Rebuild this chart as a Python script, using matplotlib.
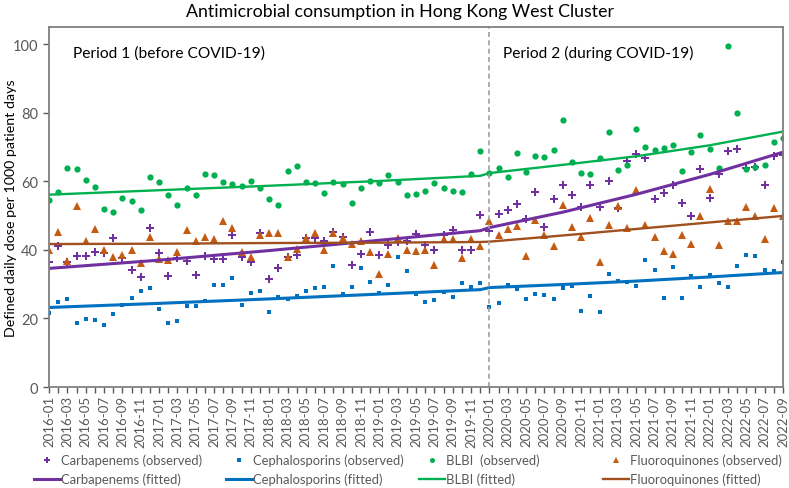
import matplotlib
matplotlib.use("Agg")
import matplotlib.pyplot as plt
from matplotlib.lines import Line2D
import numpy as np
import pandas as pd

plt.rcParams['font.family'] = ['Lato', 'DejaVu Sans']

# monthly observations, 2016-01 .. 2022-09
months = [d.strftime("%Y-%m") for d in pd.date_range("2016-01-01", "2022-09-01", freq="MS")]

carbapenems = [36.5, 41.2, 36.6, 38.2, 38.2, 39.5, 39.1, 43.4, 37.5, 34.0, 32.0, 46.4, 39.2, 32.5,
               37.5, 36.8, 32.6, 38.2, 37.3, 37.3, 44.4, 37.8, 36.6, 44.9, 31.4, 34.8, 37.8,
               38.4, 43.5, 43.4, 42.5, 45.3, 43.9, 35.5, 38.8, 45.3, 38.6, 41.4, 42.3, 42.6,
               44.5, 41.5, 40.1, 44.3, 45.7, 40.0, 40.1, 50.1, 45.4, 50.6, 51.7, 53.4, 48.9,
               56.9, 46.8, 54.7, 58.8, 56.1, 52.4, 58.8, 52.6, 60.1, 52.3, 66.0, 67.9, 66.9,
               54.8, 56.5, 58.9, 53.7, 49.9, 63.7, 55.2, 62.2, 68.7, 69.4, 63.8, 64.2, 58.9, 67.3, 67.8]

cephalosporins = [21.5, 24.8, 25.7, 18.7, 19.7, 19.6, 18.0, 21.4, 24.0, 26.0, 27.9, 28.8, 22.8, 18.6,
                  19.2, 23.5, 23.5, 25.1, 29.8, 29.9, 31.9, 23.9, 27.5, 28.0, 21.8, 26.2, 25.6,
                  26.6, 27.9, 29.0, 29.3, 35.2, 27.1, 29.3, 34.7, 30.5, 27.4, 29.9, 37.8, 33.9,
                  27.0, 24.9, 25.5, 27.6, 26.4, 30.2, 29.3, 30.3, 23.2, 24.4, 29.8, 28.5, 25.6,
                  27.0, 26.8, 25.8, 29.0, 29.4, 22.3, 26.6, 21.9, 33.1, 31.0, 30.7, 29.6, 37.1,
                  34.0, 26.1, 35.1, 26.1, 32.4, 29.3, 32.6, 30.4, 29.3, 35.2, 38.6, 38.2, 34.2, 33.9, 36.5]

blbi = [54.5, 56.9, 64.0, 63.5, 60.3, 58.3, 51.8, 51.0, 55.2, 54.3, 51.5, 61.2, 59.7, 56.1,
        53.1, 58.0, 56.1, 62.0, 61.8, 59.8, 59.2, 58.6, 60.0, 58.1, 54.7, 53.0, 63.1,
        64.4, 59.8, 59.5, 56.6, 59.7, 59.1, 53.6, 58.0, 60.1, 59.4, 61.7, 59.8, 55.9,
        56.3, 57.2, 59.4, 58.1, 57.1, 57.0, 62.1, 68.8, 62.4, 63.9, 61.2, 68.3, 62.8,
        67.4, 67.0, 69.1, 78.0, 65.7, 62.3, 62.1, 66.8, 74.3, 63.3, 64.9, 75.4, 70.0,
        69.2, 69.7, 70.7, 63.0, 68.5, 73.6, 69.4, 63.9, 99.4, 79.8, 63.7, 64.1, 64.7, 71.6, 72.7]

fluoroquinones = [39.9, 45.2, 36.7, 52.8, 42.6, 46.1, 40.0, 37.9, 38.5, 39.9, 36.1, 43.7, 37.4, 37.0,
                  39.3, 45.9, 42.5, 43.8, 43.3, 48.5, 46.4, 39.5, 38.0, 44.4, 45.0, 44.8, 38.0,
                  40.2, 43.5, 44.9, 40.1, 44.8, 43.5, 41.7, 42.5, 39.5, 33.1, 38.7, 43.4, 40.0,
                  39.7, 40.1, 35.5, 43.1, 43.1, 37.6, 43.1, 41.2, 48.4, 44.3, 46.2, 46.9, 38.2,
                  48.7, 44.4, 41.2, 53.2, 46.8, 43.8, 49.3, 36.5, 47.3, 52.9, 46.5, 57.5, 47.4,
                  43.9, 39.8, 38.9, 44.4, 41.6, 50.0, 57.7, 41.4, 48.4, 48.3, 52.6, 49.9, 43.3, 52.3, 49.8]

# fitted values read at a few months (period 1: 0-47, period 2: 48-80)
fit_months = [0, 12, 24, 36, 47, 48, 56, 64, 72, 80]
carbapenems_fit = [34.6, 37.0, 39.8, 42.8, 45.6, 46.5, 51.0, 56.2, 62.0, 68.5]
cephalosporins_fit = [23.2, 24.4, 25.7, 27.1, 28.4, 29.0, 29.9, 30.9, 32.1, 33.4]
blbi_fit = [56.1, 57.4, 58.7, 60.1, 61.6, 62.4, 64.8, 67.3, 70.5, 74.5]
fluoroquinones_fit = [41.7, 41.8, 42.0, 42.1, 42.3, 42.4, 44.2, 46.1, 48.0, 49.9]

purple = "#7030A0"
blue = "#0070C0"
green = "#00B050"
orange = "#C55A11"
brown = "#A0501E"

x = np.arange(len(months))

fig = plt.figure(figsize=(7.89, 4.89), dpi=100)
ax = fig.add_axes([0.0621, 0.2065, 0.9303, 0.7362])

ax.plot(x, carbapenems, 'P', color=purple, markersize=5.5, markeredgewidth=0, linestyle='none')
ax.plot(x, cephalosporins, 's', color=blue, markersize=3.5, markeredgewidth=0, linestyle='none')
ax.plot(x, blbi, 'o', color=green, markersize=4.5, markeredgewidth=0, linestyle='none')
ax.plot(x, fluoroquinones, '^', color=orange, markersize=6, markeredgewidth=0, linestyle='none')

ax.plot(fit_months, carbapenems_fit, color=purple, lw=2.2)
ax.plot(fit_months, cephalosporins_fit, color=blue, lw=2.2)
ax.plot(fit_months, blbi_fit, color=green, lw=1.7)
ax.plot(fit_months, fluoroquinones_fit, color=brown, lw=1.7)

ax.axvline(48, color="#a0a0a0", lw=1.2, linestyle=(0, (3, 2)))

ax.set_xlim(0, 80)
ax.set_ylim(0, 105)
ax.set_yticks([0, 20, 40, 60, 80, 100])
ax.set_xticks(x)
ax.set_xticklabels([m if i % 2 == 0 else "" for i, m in enumerate(months)], rotation=90)
ax.tick_params(axis='x', labelsize=9.5, colors="#595959", length=4, width=1, pad=2)
ax.tick_params(axis='y', labelsize=10.5, colors="#595959", length=4, width=1, pad=4)
for lbl in ax.get_xticklabels() + ax.get_yticklabels():
    lbl.set_color("#595959")
for s in ax.spines.values():
    s.set_color("#808080")
    s.set_linewidth(1.3)

ax.set_ylabel("Defined daily dose per 1000 patient days", fontsize=10.3)
ax.yaxis.set_label_coords(-0.044, 0.5)
ax.text(2.6, 97.5, "Period 1 (before COVID-19)", fontsize=11.2, va='center')
ax.text(49.5, 97.5, "Period 2 (during COVID-19)", fontsize=11.2, va='center')

fig.text(0.507, 0.975, "Antimicrobial consumption in Hong Kong West Cluster",
         ha='center', va='center', fontsize=12.8)

# legend: one block per drug, observed on top, fitted below
names = ["Carbapenems", "Cephalosporins", "BLBI ", "Fluoroquinones"]
fit_names = ["Carbapenems", "Cephalosporins", "BLBI", "Fluoroquinones"]
markers = [('P', purple, 5.5), ('s', blue, 3.5), ('o', green, 4.5), ('^', orange, 6)]
line_cols = [purple, blue, green, brown]
line_w = [2.2, 2.2, 1.7, 1.7]
leg_x = [0.043, 0.286, 0.531, 0.764]
for k in range(4):
    m, c, ms = markers[k]
    h1 = Line2D([], [], marker=m, color=c, markersize=ms * 0.8, markeredgewidth=0, linestyle='none')
    h2 = Line2D([], [], color=line_cols[k], lw=line_w[k])
    fig.legend([h1, h2], [names[k] + " (observed)", fit_names[k] + " (fitted)"],
               loc='upper left', bbox_to_anchor=(leg_x[k], 0.07), frameon=False,
               fontsize=9.4, handlelength=2.0, handletextpad=0.1, labelspacing=0.5,
               borderaxespad=0, borderpad=0, labelcolor="#595959")

fig.savefig("out.png", dpi=100)
